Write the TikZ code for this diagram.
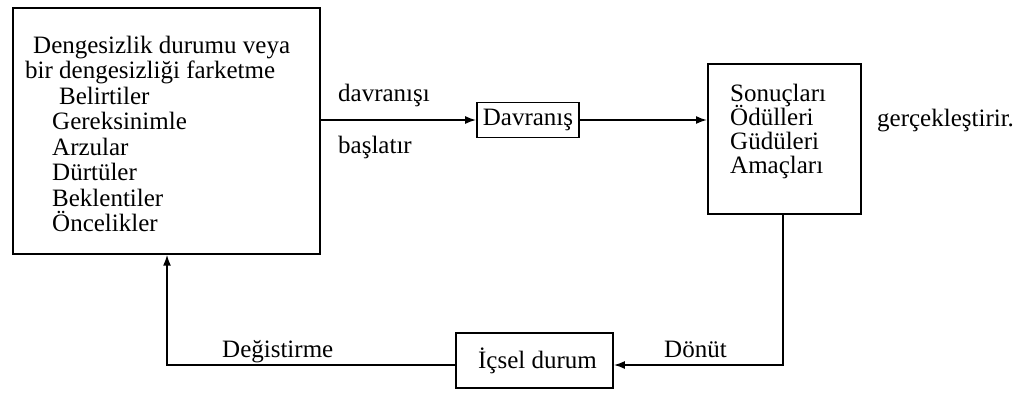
\documentclass[tikz,border=0pt]{standalone}
\usepackage{fontspec}
\setmainfont{Liberation Serif}
\usetikzlibrary{arrows.meta}
\begin{document}
\begin{tikzpicture}[x=1pt,y=-1pt,
  box/.style={draw, line width=1.7pt, inner sep=0pt},
  txt/.style={anchor=base west, inner sep=0pt, font=\fontsize{25}{27}\selectfont},
  arr/.style={line width=1.7pt, -{Latex[length=11pt,width=8pt]}},
  ln/.style={line width=1.7pt}]
\useasboundingbox (0,0) rectangle (1032,397);
% boxes
\node[box, minimum width=307pt, minimum height=246pt, anchor=north west] (L) at (12,7) {};
\node[box, minimum width=102pt, minimum height=35pt, font=\fontsize{25}{27}\selectfont] (D) at (528,120) {Davranış};
\node[box, minimum width=153pt, minimum height=150pt, anchor=north west] (R) at (707,63) {};
\node[box, minimum width=157pt, minimum height=55pt, font=\fontsize{25}{27}\selectfont] (I) at (534.5,360.5) {\hspace*{6pt}\raisebox{3pt}{İçsel durum}};
% left box text
\node[txt] (l1) at (33,53) {Dengesizlik durumu veya};
\node[txt] (l2) at (25,78.5) {bir dengesizliği farketme};
\node[txt] (l3) at (59,104) {Belirtiler};
\node[txt] (l4) at (52,129.5) {Gereksinimle};
\node[txt] (l5) at (52,155) {Arzular};
\node[txt] (l6) at (52,180.5) {Dürtüler};
\node[txt] (l7) at (52,206) {Beklentiler};
\node[txt] (l8) at (52,231.5) {Öncelikler};
% right box text
\node[txt] (r1) at (730,101) {Sonuçları};
\node[txt] (r2) at (730,125) {Ödülleri};
\node[txt] (r3) at (730,149) {Güdüleri};
\node[txt] (r4) at (730,173) {Amaçları};
% labels
\node[txt] (t1) at (338,101) {davranışı};
\node[txt] (t2) at (338,153) {başlatır};
\node[txt] (t3) at (877,126) {gerçekleştirir.};
\node[txt] (t4) at (222,357) {Değistirme};
\node[txt] (t5) at (664,357) {Dönüt};
% connectors
\coordinate (c1) at (783,365);
\coordinate (c2) at (167,365);
\draw[arr] (L.east |- D.west) -- (D.west);
\draw[arr] (D.east) -- (R.west |- D.east);
\draw[arr] (R.south -| c1) -- (c1) -- (I.east |- c1);
\draw[arr] (I.west |- c2) -- (c2) -- (c2 |- L.south);
\end{tikzpicture}
\end{document}
